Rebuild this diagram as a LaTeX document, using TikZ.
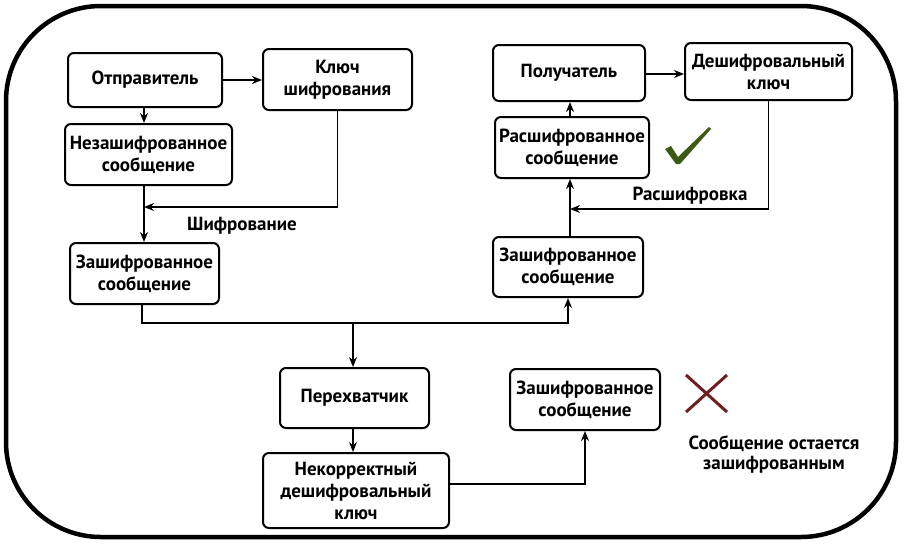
\documentclass[tikz,border=0pt]{standalone}
\usepackage{fontspec}
\setmainfont{PT Sans}
\usetikzlibrary{arrows.meta}
\definecolor{chk}{HTML}{3D5A14}
\definecolor{crs}{HTML}{6E1F1F}
\tikzset{
  box/.style={draw, line width=2pt, rounded corners=6pt, align=center, inner sep=0pt,
    font=\bfseries\fontsize{19}{22}\selectfont},
  lbl/.style={align=center, inner sep=0pt, font=\bfseries\fontsize{19}{22}\selectfont},
  arr/.style={-{Stealth[length=10pt,width=8pt]}, line width=1.9pt},
  ln/.style={line width=1.9pt}
}
\begin{document}
\begin{tikzpicture}[x=1pt,y=-1pt]
\useasboundingbox (0,0) rectangle (906,547);
\draw[line width=4.5pt, rounded corners=95pt] (6,6) rectangle (896,537);

% left column
\node[box, minimum width=154pt, minimum height=54pt] (send) at (145,80) {Отправитель};
\node[box, minimum width=149pt, minimum height=61pt] (key) at (337.5,79.5) {Ключ\\шифрования};
\node[box, minimum width=167pt, minimum height=61pt] (plain) at (148.5,154.5) {Незашифрованное\\сообщение};
\node[box, minimum width=149pt, minimum height=61pt] (encL) at (144.5,273.5) {Зашифрованное\\сообщение};

% right column
\node[box, minimum width=152pt, minimum height=56pt] (recv) at (569,73) {Получатель};
\node[box, minimum width=167pt, minimum height=57pt] (dkey) at (768.5,71.5) {Дешифровальный\\ключ};
\node[box, minimum width=154pt, minimum height=61pt] (decr) at (572,147.5) {Расшифрованное\\сообщение};
\node[box, minimum width=150pt, minimum height=60pt] (encR) at (568,267) {Зашифрованное\\сообщение};

% bottom
\node[box, minimum width=149pt, minimum height=60pt] (intc) at (354.5,398) {Перехватчик};
\node[box, minimum width=186pt, minimum height=75pt] (bad) at (356,490.5) {Некорректный\\дешифровальный\\ключ};
\node[box, minimum width=150pt, minimum height=61pt] (encB) at (585,399.5) {Зашифрованное\\сообщение};

% labels
\node[lbl] (l1) at (242,226) {Шифрование};
\node[lbl] (l2) at (690,196) {Расшифровка};
\node[lbl, font=\bfseries\fontsize{19}{20}\selectfont] (l3) at (774,454) {Сообщение остается\\зашифрованным};

% coordinates
\coordinate (cL) at (144,0);
\coordinate (cR) at (570,0);
\coordinate (m1) at (144,207);
\coordinate (m2) at (570,209);
\coordinate (br) at (353,323);

% left connectors
\draw[arr] (send.east) -- (send.east -| key.west);
\draw[arr] (cL |- send.south) -- (cL |- plain.north);
\draw[arr] (cL |- plain.south) -- (cL |- encL.north);
\draw[arr] (key.south) -- (key.south |- m1) -- (m1);

% right connectors
\draw[arr] (cR |- decr.north) -- (cR |- recv.south);
\draw[arr] (cR |- encR.north) -- (cR |- decr.south);
\draw[arr] (recv.east |- 0,74) -- (dkey.west |- 0,74);
\draw[arr] (dkey.south |- 0,100) -- (dkey.south |- m2) -- (m2);

% middle / bottom connectors
\draw[arr] (142,0 |- encL.south) -- (142,323) -- (568,323) -- (568,0 |- encR.south);
\draw[arr] (br) -- (br |- intc.north);
\draw[arr] (353,0 |- intc.south) -- (353,0 |- bad.north);
\draw[arr] (bad.east |- 0,484) -- (585,484) -- (encB.south);

% check mark
\fill[chk] (665,149) -- (671,146) -- (678,157) -- (709,127) -- (711,129) -- (680,164) -- (676,164) -- cycle;
% cross
\draw[crs, line width=3pt] (686,375) -- (727,412);
\draw[crs, line width=3pt] (727,375) -- (686,412);
\end{tikzpicture}
\end{document}
